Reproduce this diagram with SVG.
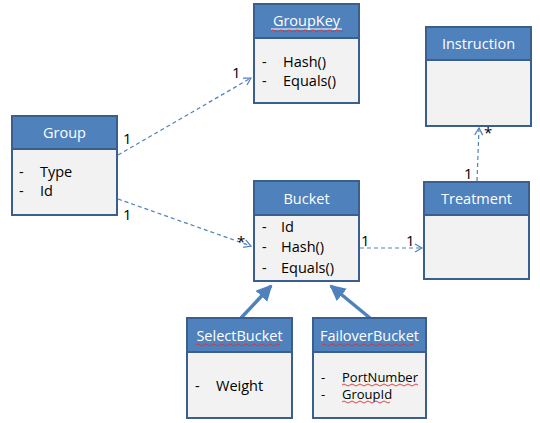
<svg xmlns="http://www.w3.org/2000/svg" width="540" height="423" viewBox="0 0 540 423">
<style>
.hd{fill:#4F81BD;stroke:#3A5F8F;stroke-width:2}
.bd{fill:#F2F2F2;stroke:#3A5F8F;stroke-width:2}
.ht{font-family:"Open Sans","Liberation Sans",sans-serif;font-size:14.5px;fill:#fff;text-anchor:middle}
.t{font-family:"Open Sans","Liberation Sans",sans-serif;font-size:14.5px;fill:#000}
.ts{font-family:"Open Sans","Liberation Sans",sans-serif;font-size:13px;fill:#000}
.lb{font-family:"Open Sans","Liberation Sans",sans-serif;font-size:15px;fill:#000}
.dash{fill:none;stroke:#4F81BD;stroke-width:1.2;stroke-dasharray:4 3}
.inh{fill:none;stroke:#4F81BD;stroke-width:3.5}
.wv{fill:none;stroke:#E03030;stroke-width:0.9}
</style>
<defs>
<marker id="open" markerWidth="10" markerHeight="10" refX="8" refY="5" orient="auto" markerUnits="userSpaceOnUse">
<path d="M1,1 L8,5 L1,9" fill="none" stroke="#4F81BD" stroke-width="1.2"/>
</marker>
<marker id="tri" markerWidth="20" markerHeight="20" refX="14" refY="8" orient="auto" markerUnits="userSpaceOnUse">
<path d="M0,0 L16,8 L0,16 Z" fill="#4F81BD"/>
</marker>
</defs>
<g id="connectors">
<path class="dash" d="M118,155 L251,78" marker-end="url(#open)"/>
<path class="dash" d="M118,199 L251,246" marker-end="url(#open)"/>
<path class="dash" d="M360,248 L422,248" marker-end="url(#open)"/>
<path class="dash" d="M477,181 L479,128" marker-end="url(#open)"/>
<path class="inh" d="M241,318 L271,286" marker-end="url(#tri)"/>
<path class="inh" d="M370,318 L331,286" marker-end="url(#tri)"/>
<text class="lb" x="123" y="144">1</text>
<text class="lb" x="232" y="78">1</text>
<text class="lb" x="123" y="220">1</text>
<text class="lb" x="237" y="247">*</text>
<text class="lb" x="361" y="246">1</text>
<text class="lb" x="406" y="246">1</text>
<text class="lb" x="464" y="179">1</text>
<text class="lb" x="484" y="138">*</text>
</g>
<g id="GroupKey">
<rect class="bd" x="254" y="38" width="105" height="65"/>
<rect class="hd" x="254" y="4" width="105" height="34"/>
<text class="ht" x="306.5" y="26">GroupKey</text>
<line x1="271" y1="29" x2="342" y2="29" stroke="#fff" stroke-width="1"/>
<path class="wv" d="M271,31 q2,-2 4,0 t4,0 t4,0 t4,0 t4,0 t4,0 t4,0 t4,0 t4,0 t4,0 t4,0 t4,0 t4,0 t4,0 t4,0 t4,0 t4,0 t4,0"/>
<text class="t" x="262" y="67">-</text><text class="t" x="283" y="67">Hash()</text>
<text class="t" x="262" y="86">-</text><text class="t" x="283" y="86">Equals()</text>
</g>
<g id="Instruction">
<rect class="bd" x="426" y="60" width="105" height="66"/>
<rect class="hd" x="426" y="27" width="105" height="33"/>
<text class="ht" x="478.5" y="49">Instruction</text>
</g>
<g id="Group">
<rect class="bd" x="12" y="149" width="105" height="66"/>
<rect class="hd" x="12" y="116" width="105" height="33"/>
<text class="ht" x="64.5" y="138">Group</text>
<text class="t" x="19" y="177">-</text><text class="t" x="40" y="177">Type</text>
<text class="t" x="19" y="196">-</text><text class="t" x="40" y="196">Id</text>
</g>
<g id="Bucket">
<rect class="bd" x="254" y="215" width="105" height="66"/>
<rect class="hd" x="254" y="181" width="105" height="34"/>
<text class="ht" x="306.5" y="204">Bucket</text>
<text class="t" x="262" y="232">-</text><text class="t" x="281" y="232">Id</text>
<text class="t" x="262" y="252">-</text><text class="t" x="281" y="252">Hash()</text>
<text class="t" x="262" y="273">-</text><text class="t" x="281" y="273">Equals()</text>
</g>
<g id="Treatment">
<rect class="bd" x="424" y="215" width="105" height="64"/>
<rect class="hd" x="424" y="182" width="105" height="33"/>
<text class="ht" x="476.5" y="204">Treatment</text>
</g>
<g id="SelectBucket">
<rect class="bd" x="187" y="352" width="105" height="66"/>
<rect class="hd" x="187" y="318" width="105" height="34"/>
<text class="ht" x="239.5" y="341">SelectBucket</text>
<path class="wv" d="M196,345 q2,-2 4,0 t4,0 t4,0 t4,0 t4,0 t4,0 t4,0 t4,0 t4,0 t4,0 t4,0 t4,0 t4,0 t4,0 t4,0 t4,0 t4,0 t4,0 t4,0 t4,0 t4,0"/>
<text class="t" x="195" y="391">-</text><text class="t" x="216" y="391">Weight</text>
</g>
<g id="FailoverBucket">
<rect class="bd" x="313" y="352" width="113" height="66"/>
<rect class="hd" x="313" y="318" width="113" height="34"/>
<text class="ht" x="369.5" y="341">FailoverBucket</text>
<path class="wv" d="M322,345 q2,-2 4,0 t4,0 t4,0 t4,0 t4,0 t4,0 t4,0 t4,0 t4,0 t4,0 t4,0 t4,0 t4,0 t4,0 t4,0 t4,0 t4,0 t4,0 t4,0 t4,0 t4,0 t4,0 t4,0"/>
<text class="ts" x="321" y="382">-</text><text class="ts" x="342" y="382">PortNumber</text>
<path class="wv" d="M342,385 q2,-2 4,0 t4,0 t4,0 t4,0 t4,0 t4,0 t4,0 t4,0 t4,0 t4,0 t4,0 t4,0 t4,0 t4,0 t4,0 t4,0 t4,0 t4,0 t4,0"/>
<text class="ts" x="321" y="399">-</text><text class="ts" x="342" y="399">GroupId</text>
<path class="wv" d="M342,402 q2,-2 4,0 t4,0 t4,0 t4,0 t4,0 t4,0 t4,0 t4,0 t4,0 t4,0 t4,0 t4,0"/>
</g>
</svg>
